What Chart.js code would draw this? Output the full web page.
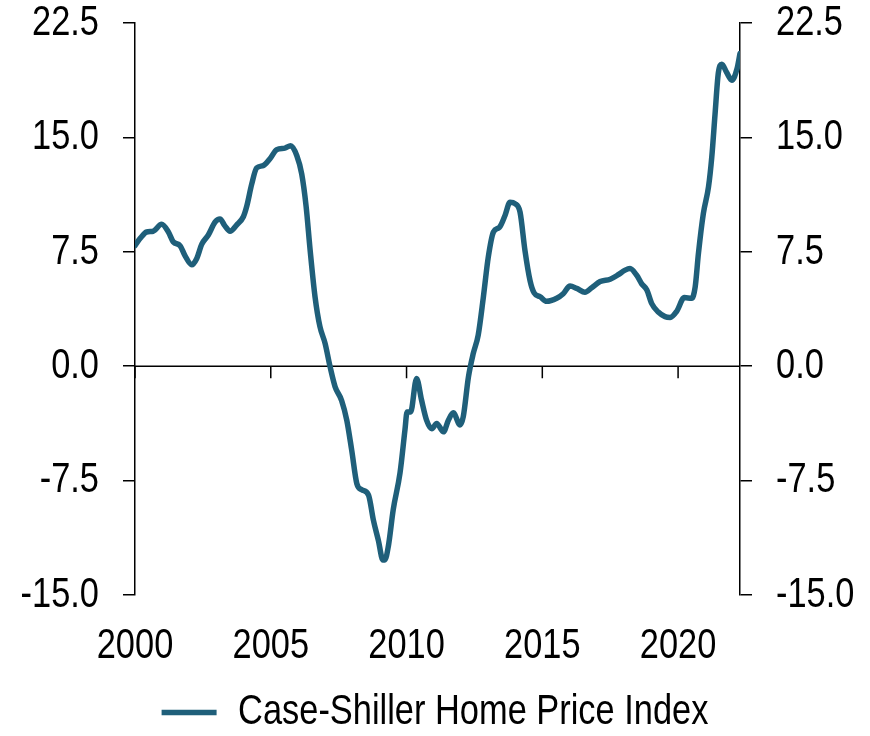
<!DOCTYPE html>
<html lang="en">
<head>
  <meta charset="UTF-8" />
  <title>Case-Shiller Home Price Index</title>
  <script src="https://cdn.jsdelivr.net/npm/chart.js@4"></script>
  <style>
    html, body { margin: 0; padding: 0; background: #fff; }
    #wrap { position: relative; width: 870px; height: 736px; }
  </style>
</head>
<body>
  <div id="wrap"><canvas id="chart"></canvas></div>

  <script>
    // Values (decimal year, % y/y)
    const dates = [
      2000.00, 2000.20, 2000.43, 2000.67, 2000.98, 2001.23, 2001.41, 2001.66, 2001.84, 2002.09,
      2002.27, 2002.46, 2002.70, 2002.95, 2003.13, 2003.31, 2003.50, 2003.74, 2003.99, 2004.11,
      2004.30, 2004.48, 2004.72, 2004.97, 2005.22, 2005.52, 2005.73, 2005.96, 2006.14, 2006.30,
      2006.45, 2006.63, 2006.81, 2007.00, 2007.18, 2007.37, 2007.61, 2007.80, 2007.98, 2008.17,
      2008.35, 2008.60, 2008.78, 2008.96, 2009.13, 2009.20, 2009.33, 2009.51, 2009.76, 2009.94,
      2010.02, 2010.15, 2010.37, 2010.55, 2010.74, 2010.93, 2011.11, 2011.36, 2011.54, 2011.72,
      2011.97, 2012.09, 2012.28, 2012.46, 2012.64, 2012.83, 2013.01, 2013.20, 2013.42, 2013.63,
      2013.81, 2014.00, 2014.18, 2014.36, 2014.55, 2014.70, 2014.92, 2015.16, 2015.53, 2015.77,
      2016.02, 2016.27, 2016.57, 2016.82, 2017.13, 2017.50, 2017.80, 2018.05, 2018.23, 2018.48,
      2018.66, 2018.85, 2019.03, 2019.27, 2019.52, 2019.71, 2019.95, 2020.23, 2020.50, 2020.63,
      2020.75, 2020.93, 2021.12, 2021.24, 2021.36, 2021.48, 2021.61, 2021.79, 2021.98, 2022.17,
      2022.28
    ];
    const hpiValues = [
      7.9, 8.4, 8.8, 8.85, 9.3, 8.8, 8.15, 7.9, 7.25, 6.65,
      7.05, 8.0, 8.6, 9.45, 9.65, 9.2, 8.85, 9.25, 9.8, 10.45,
      11.95, 13.0, 13.15, 13.6, 14.2, 14.3, 14.45, 13.8, 12.6, 10.5,
      7.6, 4.55, 2.6, 1.5, 0.0, -1.35, -2.25, -3.55, -5.5, -7.7,
      -8.1, -8.45, -10.1, -11.4, -12.7, -12.7, -11.8, -9.4, -7.0, -4.2,
      -3.0, -3.0, -0.8, -2.2, -3.55, -4.1, -3.75, -4.3, -3.55, -3.05,
      -3.85, -3.3, -0.7, 0.85, 2.05, 4.55, 7.15, 8.8, 9.1, 9.9,
      10.75, 10.65, 10.1, 7.6, 5.6, 4.8, 4.55, 4.25, 4.45, 4.75,
      5.25, 5.1, 4.85, 5.15, 5.55, 5.7, 6.0, 6.3, 6.4, 5.95,
      5.4, 5.0, 4.1, 3.55, 3.25, 3.2, 3.6, 4.5, 4.45, 5.2,
      7.4, 10.0, 11.75, 13.7, 16.5, 19.2, 19.8, 19.25, 18.75, 19.5,
      20.5
    ];
    const yearTicks = [2000, 2005, 2010, 2015, 2020];
    const valueTicks = [-15, -7.5, 0, 7.5, 15, 22.5];
    const seriesLabel = 'Case-Shiller Home Price Index';

    const lineColor = '#1f5f7a';
    const fontFamily = "'Liberation Sans', Arial, sans-serif";
    const fontSize = 43;

    // no narrow font installed, so squeeze the text horizontally (Arial Narrow look)
    const squeeze = 0.8;
    const canvas = document.getElementById('chart');
    const ctx = canvas.getContext('2d');
    const rawFillText = ctx.fillText.bind(ctx);
    const rawMeasureText = ctx.measureText.bind(ctx);
    ctx.fillText = function (text, x, y) {
      this.save();
      this.translate(x, y);
      this.scale(squeeze, 1);
      rawFillText(text, 0, 0);
      this.restore();
    };
    ctx.measureText = function (text) {
      const m = rawMeasureText(text);
      return { width: m.width * squeeze,
               actualBoundingBoxAscent: m.actualBoundingBoxAscent,
               actualBoundingBoxDescent: m.actualBoundingBoxDescent };
    };

    // zero line with year tick marks hanging below it
    const zeroAxis = {
      id: 'zeroAxis',
      beforeDatasetsDraw(chart) {
        const { ctx, scales: { x, y } } = chart;
        const y0 = y.getPixelForValue(0);
        ctx.save();
        ctx.strokeStyle = '#000';
        ctx.lineWidth = 1.5;
        ctx.beginPath();
        ctx.moveTo(x.left, y0);
        ctx.lineTo(x.right, y0);
        yearTicks.forEach(t => {
          const px = x.getPixelForValue(t);
          ctx.moveTo(px, y0);
          ctx.lineTo(px, y0 + 12);
        });
        ctx.stroke();
        ctx.restore();
      }
    };

    function valueAxis(position, width) {
      return {
        position: position,
        min: -15,
        max: 22.5,
        afterBuildTicks: s => { s.ticks = valueTicks.map(v => ({ value: v })); },
        afterFit: s => {
          s.width = width;
          s.paddingTop = 0;
          s.paddingBottom = 0;
        },
        border: { display: true, color: '#000', width: 1.5 },
        grid: { drawOnChartArea: false, tickLength: 12, color: '#000', lineWidth: 1.5 },
        ticks: {
          padding: 24,
          color: '#000',
          font: { family: fontFamily, size: fontSize, lineHeight: 1 },
          callback: v => v.toFixed(1)
        }
      };
    }

    new Chart(ctx, {
      type: 'line',
      data: {
        datasets: [{
          label: seriesLabel,
          data: dates.map((d, i) => ({ x: d, y: hpiValues[i] })),
          borderColor: lineColor,
          backgroundColor: lineColor,
          borderWidth: 5.5,
          borderCapStyle: 'round',
          borderJoinStyle: 'round',
          pointRadius: 0,
          cubicInterpolationMode: 'monotone'
        }]
      },
      options: {
        responsive: true,
        maintainAspectRatio: false,
        animation: false,
        layout: { padding: { top: 23, left: 0, right: 0, bottom: -8 } },
        plugins: {
          tooltip: { enabled: false },
          legend: {
            position: 'bottom',
            labels: {
              usePointStyle: true,
              pointStyle: 'line',
              pointStyleWidth: 55,
              padding: 10,
              color: '#000',
              font: { family: fontFamily, size: fontSize }
            }
          }
        },
        scales: {
          x: {
            type: 'linear',
            min: 2000,
            max: 2022.28,
            afterBuildTicks: s => { s.ticks = yearTicks.map(v => ({ value: v })); },
            afterFit: s => { s.height = 86; },
            border: { display: false },
            grid: { display: false, drawTicks: false },
            ticks: {
              padding: 30,
              color: '#000',
              maxRotation: 0,
              font: { family: fontFamily, size: fontSize, lineHeight: 1 },
              callback: v => String(v)
            }
          },
          y: valueAxis('left', 135),
          y2: valueAxis('right', 130)
        }
      },
      plugins: [zeroAxis]
    });
  </script>
</body>
</html>
